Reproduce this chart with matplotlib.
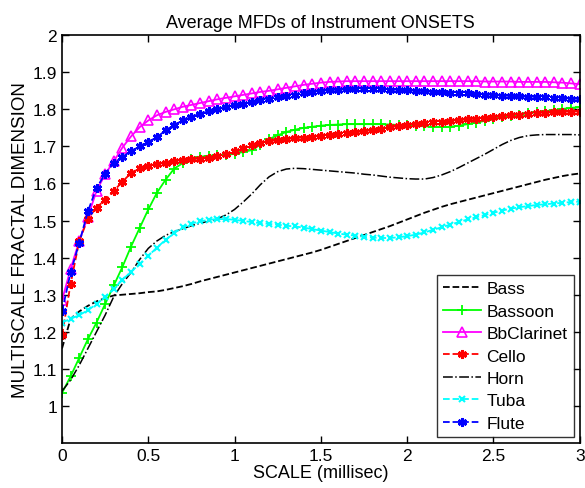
import numpy as np
import matplotlib
matplotlib.use('Agg')
import matplotlib.pyplot as plt

# ========== 数据（从图上读出，x 步长 0.05 ms） ==========
scale_ms = np.linspace(0, 3, 61)

bass = [1.155, 1.235, 1.255, 1.27, 1.282, 1.291, 1.298, 1.30, 1.302, 1.304,
        1.307, 1.309, 1.313, 1.318, 1.323, 1.329, 1.336, 1.342, 1.348, 1.354,
        1.36, 1.366, 1.372, 1.378, 1.384, 1.39, 1.396, 1.402, 1.408, 1.414,
        1.421, 1.429, 1.437, 1.445, 1.453, 1.461, 1.469, 1.477, 1.485, 1.494,
        1.503, 1.512, 1.521, 1.529, 1.537, 1.544, 1.55, 1.556, 1.562, 1.568,
        1.574, 1.58, 1.586, 1.592, 1.598, 1.604, 1.61, 1.615, 1.62, 1.624, 1.627]

bassoon = [1.035, 1.08, 1.13, 1.18, 1.225, 1.275, 1.325, 1.375, 1.43, 1.48,
           1.53, 1.575, 1.61, 1.64, 1.655, 1.665, 1.672, 1.675, 1.676, 1.677,
           1.68, 1.685, 1.69, 1.705, 1.72, 1.73, 1.739, 1.745, 1.75, 1.753,
           1.756, 1.758, 1.759, 1.76, 1.76, 1.76, 1.76, 1.76, 1.759, 1.758,
           1.757, 1.756, 1.754, 1.753, 1.752, 1.753, 1.756, 1.76, 1.764, 1.769,
           1.773, 1.778, 1.782, 1.786, 1.789, 1.792, 1.795, 1.798, 1.801, 1.804, 1.806]

clarinet = [1.285, 1.37, 1.445, 1.51, 1.58, 1.625, 1.66, 1.697, 1.727, 1.752,
            1.77, 1.784, 1.793, 1.80, 1.807, 1.812, 1.817, 1.822, 1.827, 1.831,
            1.835, 1.839, 1.843, 1.847, 1.85, 1.854, 1.858, 1.862, 1.866, 1.869,
            1.872, 1.874, 1.875, 1.876, 1.876, 1.876, 1.876, 1.876, 1.876, 1.876,
            1.876, 1.876, 1.876, 1.876, 1.876, 1.876, 1.876, 1.876, 1.876, 1.875,
            1.875, 1.875, 1.875, 1.874, 1.874, 1.874, 1.874, 1.873, 1.872, 1.87, 1.868]

cello = [1.19, 1.33, 1.445, 1.505, 1.535, 1.556, 1.58, 1.605, 1.628, 1.642,
         1.648, 1.652, 1.656, 1.66, 1.664, 1.666, 1.667, 1.669, 1.674, 1.68,
         1.688, 1.696, 1.703, 1.71, 1.714, 1.717, 1.72, 1.722, 1.724, 1.726,
         1.728, 1.73, 1.733, 1.736, 1.738, 1.741, 1.744, 1.748, 1.752, 1.755,
         1.758, 1.761, 1.763, 1.765, 1.767, 1.769, 1.771, 1.773, 1.775, 1.777,
         1.779, 1.782, 1.784, 1.786, 1.788, 1.79, 1.791, 1.792, 1.793, 1.794, 1.794]

horn = [1.04, 1.07, 1.11, 1.155, 1.20, 1.245, 1.295, 1.33, 1.36, 1.395,
        1.425, 1.445, 1.46, 1.47, 1.478, 1.486, 1.493, 1.498, 1.505, 1.515,
        1.53, 1.55, 1.572, 1.597, 1.618, 1.632, 1.639, 1.641, 1.64, 1.638,
        1.636, 1.634, 1.632, 1.63, 1.628, 1.625, 1.623, 1.62, 1.617, 1.615,
        1.613, 1.612, 1.612, 1.616, 1.623, 1.632, 1.643, 1.655, 1.667, 1.679,
        1.692, 1.705, 1.716, 1.724, 1.729, 1.731, 1.732, 1.732, 1.732, 1.732, 1.731]

tuba = [1.225, 1.235, 1.245, 1.258, 1.275, 1.294, 1.316, 1.34, 1.362, 1.383,
        1.405, 1.427, 1.448, 1.466, 1.482, 1.492, 1.498, 1.502, 1.504, 1.504,
        1.502, 1.499, 1.496, 1.493, 1.491, 1.489, 1.486, 1.484, 1.481, 1.477,
        1.473, 1.469, 1.465, 1.462, 1.459, 1.456, 1.454, 1.453, 1.453, 1.455,
        1.458, 1.462, 1.468, 1.475, 1.482, 1.489, 1.496, 1.503, 1.509, 1.515,
        1.521, 1.527, 1.532, 1.536, 1.539, 1.542, 1.544, 1.546, 1.548, 1.55, 1.551]

flute = [1.255, 1.36, 1.44, 1.525, 1.588, 1.626, 1.655, 1.672, 1.687, 1.70,
         1.712, 1.725, 1.743, 1.758, 1.77, 1.78, 1.788, 1.795, 1.80, 1.806,
         1.811, 1.815, 1.82, 1.824, 1.828, 1.832, 1.836, 1.84, 1.844, 1.847,
         1.85, 1.852, 1.853, 1.854, 1.855, 1.855, 1.855, 1.854, 1.853, 1.852,
         1.851, 1.85, 1.849, 1.847, 1.846, 1.845, 1.844, 1.843, 1.842, 1.84,
         1.839, 1.837, 1.836, 1.835, 1.834, 1.833, 1.832, 1.831, 1.83, 1.829, 1.828]

names = ['Bass', 'Bassoon', 'BbClarinet', 'Cello', 'Horn', 'Tuba', 'Flute']

# ========== 绘图 ==========
plt.rcParams['font.family'] = ['Liberation Sans', 'DejaVu Sans']

fig = plt.figure(figsize=(5.85, 4.89), dpi=100)
ax = fig.add_axes([0.106, 0.092, 0.885, 0.834])

asterisk = (6, 2, 0)
ax.plot(scale_ms, bass, 'k--', lw=1.3, label=names[0])
ax.plot(scale_ms, bassoon, color=(0, 1, 0), ls='-', marker='+', ms=7, mew=1.3, lw=1.3, label=names[1])
ax.plot(scale_ms, clarinet, color=(1, 0, 1), ls='-', marker='^', ms=7, mfc='none', mew=1.2, lw=1.3, label=names[2])
ax.plot(scale_ms, cello, color=(1, 0, 0), ls='--', marker=asterisk, ms=6.5, mew=1.9, lw=1.3, label=names[3])
ax.plot(scale_ms, horn, 'k-.', lw=1.1, label=names[4])
ax.plot(scale_ms, tuba, color=(0, 1, 1), ls='--', marker='x', ms=5, mew=1.5, lw=1.3, label=names[5])
ax.plot(scale_ms, flute, color=(0, 0, 1), ls='--', marker=asterisk, ms=6.5, mew=1.9, lw=1.3, label=names[6])

ax.set_xlim(0, 3)
ax.set_ylim(0.9, 2)
ax.set_xticks([0, 0.5, 1, 1.5, 2, 2.5, 3])
ax.set_xticklabels(['0', '0.5', '1', '1.5', '2', '2.5', '3'])
ax.set_yticks(np.arange(1, 2.01, 0.1))
ax.set_yticklabels(['1', '1.1', '1.2', '1.3', '1.4', '1.5', '1.6', '1.7', '1.8', '1.9', '2'])
ax.tick_params(direction='in', top=True, right=True, length=5, width=1, labelsize=12.5)
for sp in ax.spines.values():
    sp.set_linewidth(1.2)

ax.set_title('Average MFDs of Instrument ONSETS', fontsize=13)
ax.set_xlabel('SCALE (millisec)', fontsize=13, labelpad=1)
ax.set_ylabel('MULTISCALE FRACTAL DIMENSION', fontsize=13.5, labelpad=3)

leg = ax.legend(loc='lower right', fontsize=12.5, frameon=True, fancybox=False,
                edgecolor='black', borderaxespad=0.35, handlelength=2.2,
                handletextpad=0.3, labelspacing=0.42, borderpad=0.35)
leg.get_frame().set_linewidth(1.0)

plt.savefig('out.png', dpi=100)
